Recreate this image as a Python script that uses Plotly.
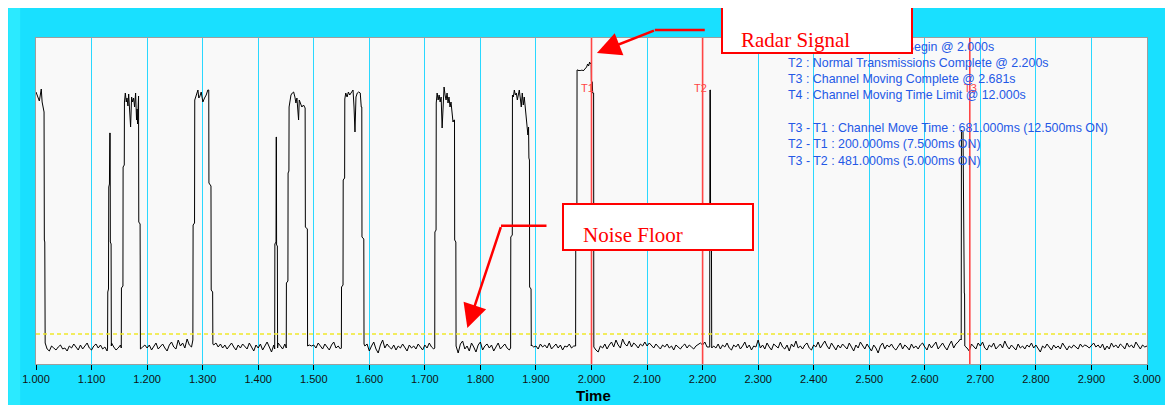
import plotly.graph_objects as go

# ---------------- data ----------------
# sampled noise floor (amplitude units), one sample every 4 ms from 1.000 s
T_START = 1.000
T_STEP = 0.004
noise_floor = [
    17, 17, 17, 17, 17, 15, 13, 18, 16, 14, 17, 19, 15, 16, 13, 18, 16, 20, 17, 14, 19, 15, 18, 21, 16,
    14, 18, 20, 16, 19, 15, 17, 13, 18, 21, 17, 14, 16, 19, 15, 18, 16, 14, 17, 20, 16, 18, 15, 17, 19,
    16, 19, 14, 18, 21, 15, 17, 20, 16, 13, 19, 22, 17, 15, 24, 18, 21, 16, 25, 19, 17, 22, 18, 20, 23,
    20, 21, 20, 22, 26, 19, 21, 17, 20, 16, 19, 15, 18, 21, 17, 14, 19, 16, 20, 18, 15, 21, 17, 13, 19,
    16, 20, 14, 18, 22, 17, 12, 19, 16, 21, 18, 15, 20, 17, 14, 19, 16, 22, 18, 15, 17, 20, 16, 19, 18,
    19, 16, 21, 18, 15, 20, 17, 14, 19, 22, 16, 18, 15, 20, 17, 19, 16, 18, 21, 15, 17, 19, 16, 18, 20,
    13, 18, 22, 15, 11, 19, 24, 16, 20, 17, 15, 19, 14, 18, 16, 20, 17, 13, 19, 16, 18, 15, 20, 17, 14,
    19, 16, 21, 17, 15, 18, 20, 16, 19, 17, 14, 19, 12, 21, 16, 11, 20, 23, 15, 18, 13, 21, 17, 12, 19,
    22, 14, 18, 20, 16, 19, 13, 17, 21, 15, 18, 20, 16, 14, 12, 18, 17, 19, 20, 16, 15, 18, 16, 19, 17,
    18, 15, 20, 17, 19, 16, 21, 15, 18, 20, 16, 19, 14, 18, 17, 20, 16, 18, 19, 16, 17, 17, 17, 17, 17,
    17, 17, 14, 12, 18, 16, 20, 15, 19, 22, 17, 24, 19, 16, 25, 20, 18, 23, 17, 21, 19, 16, 20, 18, 22,
    18, 21, 19, 16, 20, 18, 15, 19, 17, 20, 16, 18, 14, 19, 17, 15, 18, 20, 16, 19, 17, 15, 18, 20, 21,
    19, 22, 17, 17, 14, 18, 16, 20, 15, 19, 17, 21, 16, 14, 19, 17, 20, 15, 18, 22, 16, 19, 14, 18, 17,
    24, 16, 19, 15, 21, 17, 14, 20, 18, 16, 22, 17, 15, 19, 13, 20, 17, 23, 16, 18, 15, 19, 21, 16, 14,
    19, 17, 22, 16, 20, 23, 18, 15, 21, 17, 14, 19, 16, 20, 18, 15, 21, 17, 13, 19, 16, 22, 18, 15, 20,
    17, 13, 19, 16, 11, 18, 21, 15, 19, 17, 20, 16, 14, 18, 21, 15, 19, 17, 14, 20, 16, 18, 15, 19, 21,
    17, 14, 20, 16, 19, 22, 15, 18, 21, 17, 14, 19, 23, 16, 20, 22, 25, 24, 17, 16, 13, 20, 17, 15, 21,
    18, 22, 16, 14, 19, 17, 21, 15, 18, 20, 16, 23, 18, 15, 19, 17, 14, 20, 16, 18, 15, 19, 17, 21, 16,
    19, 15, 12, 18, 16, 20, 17, 14, 19, 16, 18, 15, 21, 17, 14, 18, 16, 19, 17, 15, 20, 17, 19, 18, 16,
    18, 21, 17, 19, 16, 20, 14, 18, 15, 21, 17, 19, 16, 20, 18, 15, 21, 17, 19, 16, 22, 18, 15, 19, 17,
    18,
]

# transmission bursts: [time s, amplitude]
burst_1 = [[1.0000, 272], [1.0020, 268], [1.0040, 266], [1.0060, 263], [1.0080, 270], [1.0095, 275],
           [1.0110, 262], [1.0130, 254], [1.0145, 252], [1.0150, 124], [1.0158, 122], [1.0165, 21]]
spike_1 = [[1.1288, 16], [1.1292, 72], [1.1305, 75], [1.1310, 177], [1.1322, 180], [1.1328, 231],
           [1.1335, 231], [1.1338, 122], [1.1352, 120], [1.1356, 18]]
burst_2 = [[1.1535, 16], [1.1538, 76], [1.1565, 78], [1.1568, 197], [1.1589, 199], [1.1592, 262],
           [1.1608, 271], [1.1625, 262], [1.1638, 266], [1.1655, 258], [1.1668, 270], [1.1686, 252],
           [1.1703, 237], [1.1721, 267], [1.1739, 262], [1.1757, 266], [1.1775, 257], [1.1793, 271],
           [1.1810, 244], [1.1820, 255], [1.1828, 240], [1.1846, 268], [1.1850, 142], [1.1874, 140],
           [1.1878, 16]]
burst_3 = [[1.2824, 24], [1.2828, 139], [1.2854, 141], [1.2858, 264], [1.2885, 269], [1.2915, 274],
           [1.2930, 266], [1.2945, 267], [1.2974, 272], [1.3004, 262], [1.3034, 266], [1.3064, 269],
           [1.3093, 274], [1.3110, 274], [1.3113, 181], [1.3150, 178], [1.3154, 74], [1.3180, 72],
           [1.3184, 20]]
spike_2 = [[1.4297, 15], [1.4300, 120], [1.4321, 122], [1.4324, 227], [1.4328, 227], [1.4331, 119],
           [1.4345, 118], [1.4349, 16]]
burst_4 = [[1.4505, 16], [1.4508, 81], [1.4535, 83], [1.4538, 191], [1.4553, 193], [1.4556, 257],
           [1.4578, 268], [1.4590, 269], [1.4614, 271], [1.4638, 272], [1.4661, 267], [1.4679, 261],
           [1.4697, 266], [1.4727, 244], [1.4739, 264], [1.4762, 261], [1.4786, 257], [1.4816, 259],
           [1.4845, 256], [1.4849, 137], [1.4885, 135], [1.4889, 18]]
burst_5 = [[1.5497, 16], [1.5500, 77], [1.5527, 79], [1.5530, 184], [1.5556, 186], [1.5559, 265],
           [1.5576, 271], [1.5600, 267], [1.5624, 272], [1.5647, 269], [1.5677, 271], [1.5707, 274],
           [1.5725, 257], [1.5742, 232], [1.5760, 267], [1.5784, 271], [1.5808, 272], [1.5837, 271],
           [1.5855, 257], [1.5865, 257], [1.5868, 127], [1.5901, 125], [1.5905, 20]]
burst_6 = [[1.7178, 16], [1.7181, 132], [1.7202, 134], [1.7205, 261], [1.7221, 271], [1.7239, 264],
           [1.7257, 269], [1.7275, 262], [1.7293, 267], [1.7311, 236], [1.7328, 266], [1.7346, 277],
           [1.7364, 269], [1.7382, 264], [1.7400, 271], [1.7417, 261], [1.7435, 267], [1.7453, 257],
           [1.7471, 262], [1.7489, 252], [1.7507, 242], [1.7524, 244], [1.7534, 244], [1.7537, 124],
           [1.7558, 122], [1.7562, 18]]
burst_7 = [[1.8544, 16], [1.8547, 127], [1.8574, 129], [1.8577, 269], [1.8593, 267], [1.8611, 274],
           [1.8629, 269], [1.8647, 271], [1.8665, 264], [1.8683, 269], [1.8700, 274], [1.8718, 266],
           [1.8736, 257], [1.8754, 271], [1.8772, 259], [1.8790, 267], [1.8807, 254], [1.8825, 244],
           [1.8843, 236], [1.8855, 229], [1.8867, 237], [1.8873, 206], [1.8883, 204], [1.8886, 77],
           [1.8912, 75], [1.8916, 18]]
radar_burst = [[1.9714, 18], [1.9717, 145], [1.9737, 147], [1.9740, 294], [1.9760, 294], [1.9775, 293],
               [1.9790, 294], [1.9805, 293], [1.9820, 294], [1.9835, 294], [1.9850, 293], [1.9865, 294],
               [1.9880, 295], [1.9894, 296], [1.9912, 297], [1.9930, 300], [1.9948, 298], [1.9966, 302],
               [1.9983, 300], [1.9995, 301], [1.9998, 283], [2.0015, 282], [2.0020, 271], [2.0038, 271],
               [2.0042, 17]]
pulse_t2 = [[2.2128, 17], [2.2132, 274], [2.2140, 274], [2.2144, 114], [2.2160, 114], [2.2164, 16]]
pulse_t3 = [[2.6655, 24], [2.6660, 234], [2.6688, 232], [2.6692, 179], [2.6700, 178], [2.6703, 126],
            [2.6708, 125], [2.6711, 71], [2.6716, 70], [2.6720, 18]]

marker_names = ["T1", "T2", "T3"]
marker_times = [2.000, 2.200, 2.681]
threshold = 30

tick_values = [1.0 + 0.1 * i for i in range(21)]
tick_labels = ["1.000", "1.100", "1.200", "1.300", "1.400", "1.500", "1.600", "1.700", "1.800",
               "1.900", "2.000", "2.100", "2.200", "2.300", "2.400", "2.500", "2.600", "2.700",
               "2.800", "2.900", "3.000"]

info_lines = [
    "T1 : Channel Moving Begin @ 2.000s",
    "T2 : Normal Transmissions Complete @ 2.200s",
    "T3 : Channel Moving Complete @ 2.681s",
    "T4 : Channel Moving Time Limit @ 12.000s",
    "T3 - T1 : Channel Move Time : 681.000ms (12.500ms ON)",
    "T2 - T1 : 200.000ms (7.500ms ON)",
    "T3 - T2 : 481.000ms (5.000ms ON)",
]

# ---------------- build trace ----------------
segments = [burst_1, spike_1, burst_2, burst_3, spike_2, burst_4, burst_5, burst_6, burst_7,
            radar_burst, pulse_t2, pulse_t3]
intervals = [(s[0][0], s[-1][0]) for s in segments]
noise_t = [round(T_START + i * T_STEP, 4) for i in range(len(noise_floor))]
pts = [(t, v) for t, v in zip(noise_t, noise_floor)
       if not any(a <= t <= b for a, b in intervals)]
for s in segments:
    pts.extend((p[0], p[1]) for p in s)
pts.sort()
xs = [p[0] for p in pts]
ys = [p[1] for p in pts]

# ---------------- layout helpers ----------------
# the page adds an 8 px white margin on top/left (the white window strip)
OFF = 8
W, H = 1173 - OFF, 405 - OFF
L, R, T, B = 36 - OFF, 14, 38 - OFF, 41
PW = W - L - R
PH = H - T - B
PLOT_L, PLOT_B = 36, 364  # page pixel coords of plot corner


def px(x):
    return (x - PLOT_L) / PW


def py(y):
    return (PLOT_B - y) / PH


CYAN = "#19E0FF"
GRID = "#2AD8FF"
RED = "#FF0000"
TRED = "#FF4545"
BLUE = "#2458E6"
SANS = "Liberation Sans, Arial, sans-serif"
SERIF = "Liberation Serif, Times New Roman, serif"

fig = go.Figure()
fig.add_trace(go.Scatter(x=xs, y=ys, mode="lines", line=dict(color="black", width=1),
                         hoverinfo="skip", showlegend=False))

shapes = []
# lighter bevel on the left of the frame
shapes.append(dict(type="rect", xref="paper", yref="paper", x0=px(8), x1=px(20), y0=py(405), y1=py(8),
                   fillcolor="#2BEAFF", line=dict(width=0), layer="above"))
# threshold
shapes.append(dict(type="line", xref="paper", yref="y", x0=0, x1=1, y0=threshold, y1=threshold,
                   line=dict(color="#EFE82A", width=1.3, dash="4px,3px"), layer="above"))
# marker lines
for t in marker_times:
    shapes.append(dict(type="line", xref="x", yref="paper", x0=t, x1=t, y0=0, y1=1,
                       line=dict(color=TRED, width=1.6), layer="above"))
# arrow leaders
shapes.append(dict(type="line", xref="paper", yref="paper", x0=px(712), x1=px(661.5), y0=py(30), y1=py(30),
                   line=dict(color=RED, width=2.5), layer="above"))
shapes.append(dict(type="line", xref="paper", yref="paper", x0=px(552), x1=px(506), y0=py(225.7),
                   y1=py(225.7), line=dict(color=RED, width=2.5), layer="above"))

ann = []
for name, t in zip(marker_names, marker_times):
    off = {"T1": -0.0066, "T2": -0.0035, "T3": 0.0005}[name]
    ann.append(dict(x=t + off, y=py(88), xref="x", yref="paper", text=name, showarrow=False,
                    xanchor="center", yanchor="middle", font=dict(family=SANS, size=11, color=TRED)))

line_y = [46.7, 62.7, 79.3, 95.3, 127.7, 144.3, 161.0]
for txt, yy in zip(info_lines, line_y):
    ann.append(dict(x=px(794), y=py(yy), xref="paper", yref="paper", text=txt, showarrow=False,
                    xanchor="left", yanchor="middle", font=dict(family=SANS, size=12.4, color=BLUE)))

# callout boxes
for (bx, by, label, tx, ty) in [(728, 6, "Radar Signal", 747, 40), (568, 203, "Noise Floor", 587, 235)]:
    ann.append(dict(x=px(bx), y=py(by), xref="paper", yref="paper", text=" ", showarrow=False,
                    xanchor="left", yanchor="top", width=188, height=44, bgcolor="white",
                    bordercolor=RED, borderwidth=2, borderpad=0))
    ann.append(dict(x=px(tx), y=py(ty), xref="paper", yref="paper", text=label, showarrow=False,
                    xanchor="left", yanchor="middle", font=dict(family=SERIF, size=21, color=RED)))

# arrows
ann.append(dict(x=px(603), y=py(53), xref="paper", yref="paper", text="", showarrow=True,
                ax=58.5, ay=-23, arrowhead=2, arrowsize=1.9, arrowwidth=2.5, arrowcolor=RED))
ann.append(dict(x=px(472), y=py(328), xref="paper", yref="paper", text="", showarrow=True,
                ax=34, ay=-102.3, arrowhead=2, arrowsize=1.9, arrowwidth=2.5, arrowcolor=RED))

# axis title
ann.append(dict(x=px(600), y=py(395.5), xref="paper", yref="paper", text="<b>Time</b>", showarrow=False,
                xanchor="center", yanchor="middle", font=dict(family=SANS, size=15, color="black")))

fig.update_layout(
    width=W, height=H,
    margin=dict(l=L, r=R, t=T, b=B, pad=0),
    paper_bgcolor=CYAN,
    plot_bgcolor="#F9F9F9",
    showlegend=False,
    shapes=shapes,
    annotations=ann,
    xaxis=dict(range=[1.0, 3.0], tickmode="array", tickvals=tick_values, ticktext=tick_labels,
               ticks="outside", ticklen=5, tickcolor="black", tickwidth=1,
               tickfont=dict(family=SANS, size=11, color="#111111"),
               showgrid=True, gridcolor=GRID, gridwidth=1, zeroline=False,
               showline=True, linecolor="#9E9E9E", linewidth=1, mirror=True),
    yaxis=dict(range=[0, PH], showticklabels=False, ticks="", showgrid=False, zeroline=False,
               showline=True, linecolor="#9E9E9E", linewidth=1, mirror=True),
)

fig.write_html("out.html")
